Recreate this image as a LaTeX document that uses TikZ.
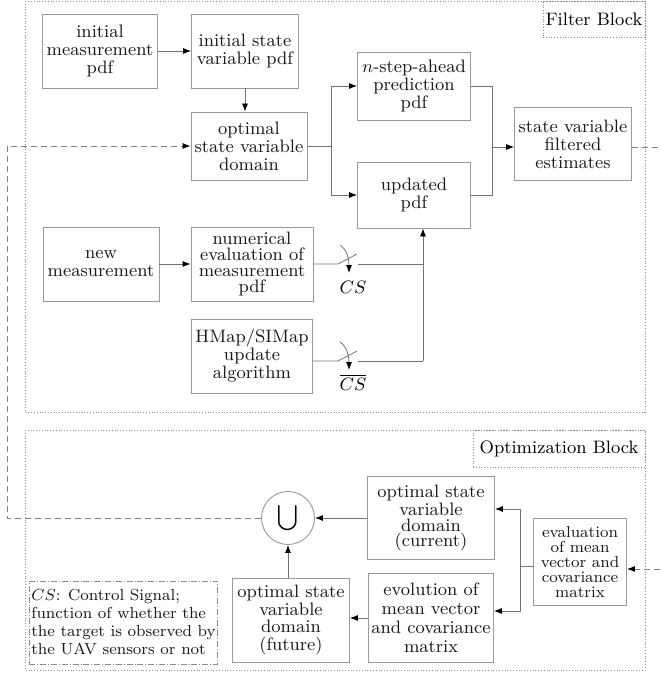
\documentclass[tikz,border=0pt]{standalone}
\usepackage{amsmath}
\usetikzlibrary{arrows.meta}

\begin{document}
\begin{tikzpicture}[x=0.5pt,y=-0.5pt,>={Latex[length=4pt,width=3pt,black]}]
      \tikzstyle{every node}+=[inner sep=0pt]
      \tikzstyle{blk}=[draw=black!40,align=center,text=black!90,font=\fontsize{9}{9}\selectfont]
      \tikzstyle{wire}=[draw=black!55]
      \tikzstyle{feed}=[draw=black!50,dash pattern=on 3pt off 2pt]
      \tikzstyle{frame}=[draw=black!45,densely dotted]
      \useasboundingbox (0,0) rectangle (660,674);
      % filter block
      \draw [frame] (25,1) rectangle (645,412);
      \node [frame,font=\fontsize{9}{9}\selectfont,minimum width=51pt,minimum height=18pt] (fbl) at (594,19) {Filter Block};
      \node [blk,minimum width=57.5pt,minimum height=37pt] (inm) at (100,51) {initial\\measurement\\pdf};
      \node [blk,minimum width=53.5pt,minimum height=37pt] (ins) at (245,51) {initial state\\variable pdf};
      \node [blk,minimum width=58pt,minimum height=34pt] (dom) at (249,146) {optimal\\state variable\\domain};
      \node [blk,minimum width=56.5pt,minimum height=34pt] (pred) at (414,86) {$n$-step-ahead\\prediction\\pdf};
      \node [blk,minimum width=56.5pt,minimum height=33pt] (upd) at (414,195) {updated\\pdf};
      \node [blk,minimum width=58.5pt,minimum height=36.5pt] (est) at (573,144) {state variable\\filtered\\estimates};
      \node [blk,minimum width=58pt,minimum height=37pt] (nm) at (101,264) {new\\measurement};
      \node [blk,font=\fontsize{9}{8}\selectfont,minimum width=61pt,minimum height=37pt] (num) at (252,264) {numerical\\evaluation of\\measurement\\pdf};
      \node [blk,minimum width=60.5pt,minimum height=37pt] (hm) at (252,356) {HMap/SIMap\\update\\algorithm};
      \coordinate (fork1) at (331,146);
      \coordinate (join1) at (492,147);
      \coordinate (outR) at (660,147);
      \draw [wire,->] (inm) -- (ins);
      \draw [wire,->] (ins.south) -- (ins.south |- dom.north);
      \draw [wire] (dom.east) -- (fork1);
      \draw [wire,->] (fork1) |- (pred.west);
      \draw [wire,->] (fork1) |- (upd.west);
      \draw [wire] (pred.east) -| (join1);
      \draw [wire] (upd.east) -| (join1);
      \draw [wire,->] (join1) -- (join1 -| est.west);
      \draw [feed] (est.east |- outR) -- (outR);
      \draw [wire,->] (nm) -- (num);
      % switches
      \coordinate (sw1a) at (338,264);
      \coordinate (sw1b) at (357,254);
      \coordinate (bus1) at (423,264);
      \coordinate (sw2a) at (338,361);
      \coordinate (sw2b) at (357,351);
      \coordinate (bus2) at (423,361);
      \draw [wire] (num.east) -- (sw1a) -- (sw1b);
      \draw [wire] (358,264) -- (bus1);
      \draw [wire] (hm.east |- sw2a) -- (sw2a) -- (sw2b);
      \draw [wire] (358,361) -- (bus2);
      \draw [wire,->] (bus2) -- (bus2 |- upd.south);
      \draw [wire,->] (340,245) .. controls (347,250) and (349,258) .. (349,273);
      \draw [wire,->] (340,342) .. controls (347,347) and (349,355) .. (349,370);
      \node [font=\fontsize{9}{9}\selectfont] (cs1) at (353,287) {$CS$};
      \node [font=\fontsize{9}{9}\selectfont] (cs2) at (353,382) {$\overline{CS}$};
      % optimization block
      \draw [frame] (25,430) rectangle (645,670);
      \node [frame,font=\fontsize{9}{9}\selectfont,minimum width=86pt,minimum height=18.5pt] (obl) at (559,448.5) {Optimization Block};
      \node [draw=black!45,circle,minimum size=26.5pt] (un) at (288,518) {\fontsize{9}{9}\selectfont$\displaystyle\bigcup$};
      \node [blk,font=\fontsize{9}{7.6}\selectfont,minimum width=63.5pt,minimum height=41.5pt] (cur) at (431,518) {optimal state\\variable\\domain\\(current)};
      \node [blk,font=\fontsize{8}{7.5}\selectfont,minimum width=46.5pt,minimum height=43.5pt] (ev) at (580,562) {evaluation\\of mean\\vector and\\covariance\\matrix};
      \node [blk,font=\fontsize{9}{9.5}\selectfont,minimum width=62.5pt,minimum height=44.5pt] (evo) at (431,618) {evolution of\\mean vector\\and covariance\\matrix};
      \node [blk,font=\fontsize{9}{8.7}\selectfont,minimum width=58.5pt,minimum height=42pt] (fut) at (291,620) {optimal state\\variable\\domain\\(future)};
      \node [draw=black!45,densely dashdotted,text=black!90,font=\fontsize{8}{9}\selectfont,align=left,minimum height=41.5pt,inner sep=1pt] (leg) at (123.5,622.5) {$CS$: Control Signal;\\function of whether the\\the target is observed by\\the UAV sensors or not};
      \coordinate (fork2) at (520,566);
      \coordinate (inR) at (660,569);
      \coordinate (fbL) at (7,518);
      \draw [wire,->] (cur.west) -- (un.east);
      \draw [wire] (ev.west |- fork2) -- (fork2);
      \draw [wire,->] (fork2) |- (cur.east |- 0,509);
      \draw [wire,->] (fork2) |- (evo.east |- 0,611);
      \draw [feed,->] (inR) -- (ev.east |- inR);
      \draw [wire,->] (evo.west) -- (evo.west -| fut.east);
      \draw [wire,->] (un.south |- fut.north) -- (un.south);
      \draw [feed,->] (un.west) -- (fbL) |- (dom.west);
\end{tikzpicture}
\end{document}
